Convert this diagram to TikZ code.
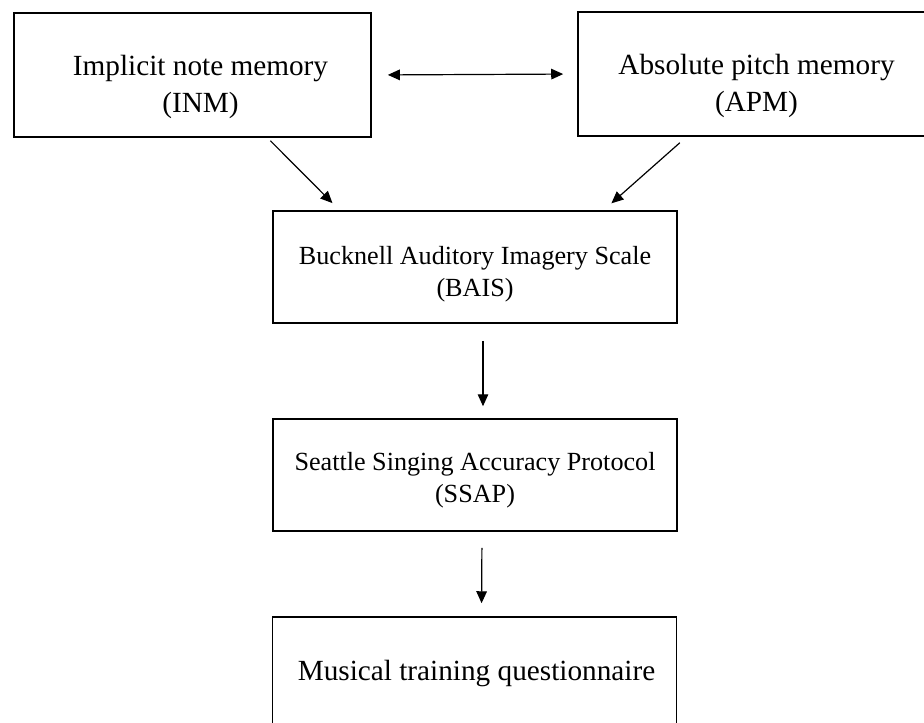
\documentclass[tikz,border=0pt]{standalone}
\usepackage{fontspec}
\setmainfont{Liberation Serif}
\usetikzlibrary{calc,arrows.meta}

\begin{document}
\begin{tikzpicture}[x=0.025cm,y=-0.025cm,
  topbox/.style={draw,line width=1.1pt,minimum width=8.925cm,minimum height=3.1cm,inner sep=0pt},
  midbox/.style={draw,line width=1.1pt,minimum width=10.1cm,minimum height=2.8cm,inner sep=0pt},
  bigtxt/.style={font=\fontsize{20.8}{26.3}\selectfont,align=center,inner sep=0pt},
  smalltxt/.style={font=\fontsize{18.6}{22.8}\selectfont,align=center,inner sep=0pt},
  arr/.style={-{Triangle[length=8.5pt,width=7.5pt]},line width=0.85pt},
  dblarr/.style={{Triangle[length=8.5pt,width=7.5pt]}-{Triangle[length=8.5pt,width=7.5pt]},line width=0.85pt}]
\clip (0,0) rectangle (924,722);
\fill[white] (0,0) rectangle (924,722);
% top row
\node[topbox,label={[bigtxt,xshift=0.2cm,yshift=-0.3cm]center:{Implicit note memory\\(INM)}}] (inm) at (192.5,75) {};
\node[topbox,label={[bigtxt,yshift=-0.3cm]center:{Absolute pitch memory\\(APM)}}] (apm) at (756.5,74) {};
% column
\node[midbox,label={[smalltxt,yshift=-0.19cm]center:{Bucknell Auditory Imagery Scale\\(BAIS)}}] (bais) at (475,267) {};
\node[midbox,label={[smalltxt,yshift=-0.13cm]center:{Seattle Singing Accuracy Protocol\\(SSAP)}}] (ssap) at (475,475) {};
\node[midbox,label={[bigtxt,xshift=0.05cm]center:{Musical training questionnaire}}] (mtq) at (474.5,673) {};
% connectors
\draw[dblarr,shorten <=0.4cm,shorten >=0.35cm] (inm.east) -- (apm.west);
\draw[arr,shorten <=0.105cm,shorten >=0.25cm] ($(inm.south west)!0.709!(inm.south east)$) -- ($(bais.north west)!0.166!(bais.north east)$);
\draw[arr,shorten <=0.225cm,shorten >=0.26cm] ($(apm.south west)!0.305!(apm.south east)$) -- ($(bais.north west)!0.817!(bais.north east)$);
\draw[arr,shorten <=0.425cm,shorten >=0.3cm] ($(bais.south)+(8,0)$) -- ($(ssap.north)+(8,0)$);
\draw[arr,shorten <=0.4cm,shorten >=0.325cm] ($(ssap.south)+(7,0)$) -- ($(mtq.north)+(7,0)$);
\end{tikzpicture}
\end{document}
